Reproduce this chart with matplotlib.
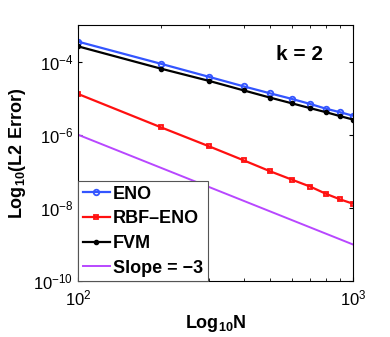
import matplotlib
matplotlib.use('Agg')
import matplotlib.pyplot as plt
from matplotlib.ticker import LogLocator, NullLocator, NullFormatter

plt.rcParams['font.family'] = ['Liberation Sans', 'DejaVu Sans']
plt.rcParams['mathtext.fontset'] = 'custom'
plt.rcParams['mathtext.rm'] = 'Liberation Sans'
plt.rcParams['mathtext.bf'] = 'Liberation Sans:bold'

# data
N = [100, 200, 300, 400, 500, 600, 700, 800, 900, 1000]
eno = [3.5e-4, 8.7e-5, 3.8e-5, 2.1e-5, 1.35e-5, 9.5e-6, 6.9e-6, 5.1e-6, 4.1e-6, 3.3e-6]
rbf_eno = [1.3e-5, 1.6e-6, 4.8e-7, 2.0e-7, 1.0e-7, 5.9e-8, 3.8e-8, 2.4e-8, 1.7e-8, 1.3e-8]
fvm = [2.6e-4, 6.4e-5, 2.95e-5, 1.63e-5, 1.03e-5, 7.2e-6, 5.3e-6, 4.1e-6, 3.2e-6, 2.6e-6]
slope_N = [100, 1000]
slope_err = [1e-6, 1e-9]

fig = plt.figure(figsize=(3.9, 3.37), dpi=100)
ax = fig.add_axes([0.2, 0.166, 0.705, 0.76])

ax.loglog(N, eno, color='#3355ff', marker='o', ms=4, mfc='none', mew=1.3, lw=1.6, label='ENO')
ax.loglog(N, rbf_eno, color='#ff1010', marker='s', ms=3.5, mfc='none', mew=1.3, lw=1.6, label='RBF\u2013ENO')
ax.loglog(N, fvm, color='black', marker='o', ms=3, lw=1.6, label='FVM')
ax.loglog(slope_N, slope_err, color='#b847ff', lw=1.4, label='Slope = \u22123')

ax.set_xlim(100, 1000)
ax.set_ylim(1e-10, 1e-3)
ax.set_yticks([1e-10, 1e-8, 1e-6, 1e-4])
ax.yaxis.set_minor_locator(NullLocator())
ax.xaxis.set_minor_locator(LogLocator(base=10, subs=range(2, 10)))
ax.xaxis.set_minor_formatter(NullFormatter())
ax.tick_params(which='both', direction='in', top=True, right=True, labelsize=12)
ax.tick_params(axis='x', pad=5)
ax.tick_params(which='major', length=3)
ax.tick_params(which='minor', length=2)

ax.set_xlabel(r'$\mathbf{Log_{10}N}$', fontsize=13)
ax.set_ylabel(r'$\mathbf{Log_{10}(L2\ Error)}$', fontsize=13)
ax.text(0.805, 0.885, 'k = 2', transform=ax.transAxes, fontsize=15,
        fontweight='bold', ha='center', va='center')

leg = ax.legend(loc='lower left', prop={'weight': 'bold', 'size': 13},
                handlelength=1.5, handletextpad=0.2, labelspacing=0.42,
                borderpad=0.25, borderaxespad=0.0, fancybox=False, framealpha=1)
leg.get_frame().set_edgecolor('#555555')
leg.get_frame().set_linewidth(0.8)

fig.savefig('out.png', dpi=100)
